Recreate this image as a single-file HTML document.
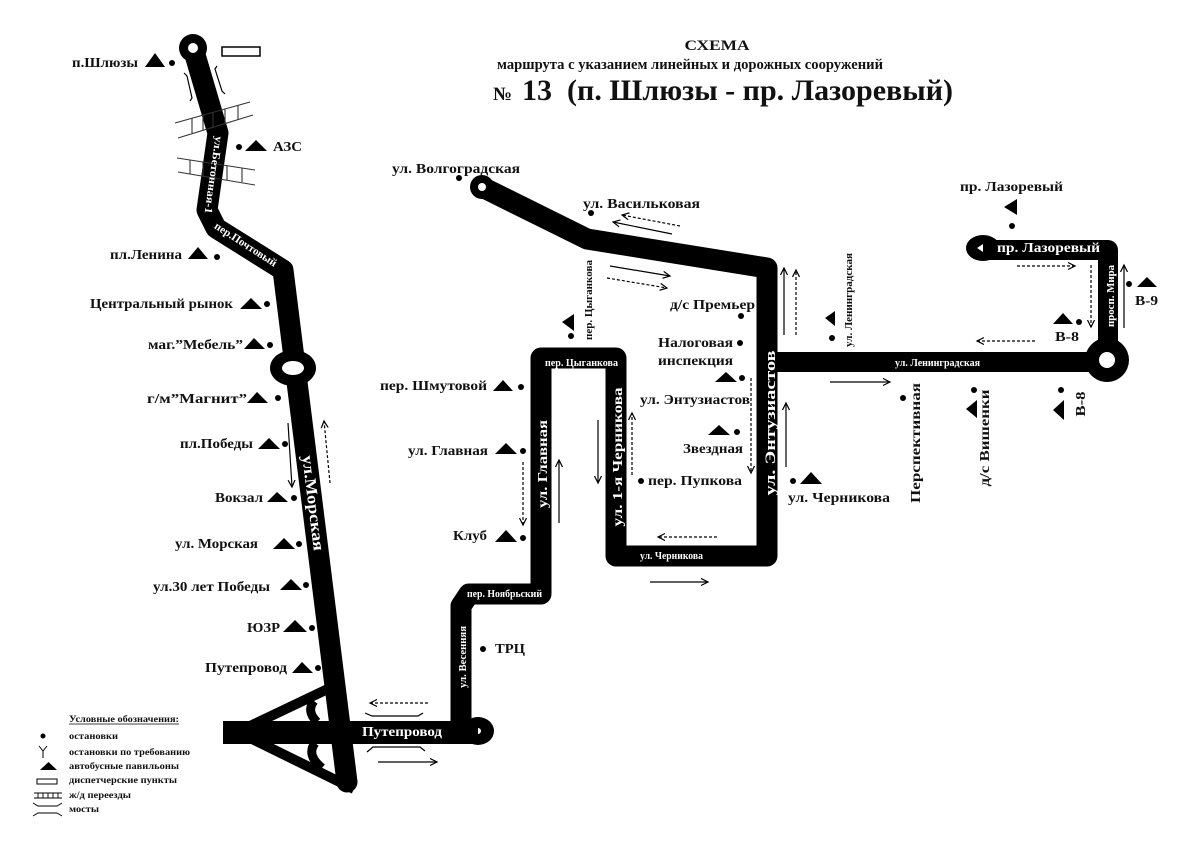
<!DOCTYPE html>
<html><head><meta charset="utf-8"><style>
html,body{margin:0;padding:0;background:#fff;}
svg{display:block;}
text{font-family:"Liberation Serif","DejaVu Serif",serif;font-weight:bold;fill:#111;}
.w{fill:#fff;}
</style></head><body>
<svg width="1200" height="849" viewBox="0 0 1200 849" xmlns="http://www.w3.org/2000/svg">
<defs>
<marker id="ah" markerWidth="9" markerHeight="9" refX="7" refY="4" orient="auto" markerUnits="userSpaceOnUse"><path d="M0,0.5 L7,4 L0,7.5" fill="none" stroke="#000" stroke-width="1.2"/></marker>
</defs>
<rect width="1200" height="849" fill="#fff"/>

<!-- Title -->
<text x="717" y="50" font-size="15" text-anchor="middle" textLength="65" lengthAdjust="spacingAndGlyphs">СХЕМА</text>
<text x="497" y="69" font-size="15" textLength="386" lengthAdjust="spacingAndGlyphs">маршрута с указанием линейных и дорожных сооружений</text>
<text x="493" y="100" font-size="19" textLength="19" lengthAdjust="spacingAndGlyphs">№</text>
<text x="522" y="100" font-size="30" textLength="431" lengthAdjust="spacingAndGlyphs">13&#160; (п. Шлюзы - пр. Лазоревый)</text>

<!-- LEFT ROAD -->
<polyline points="193,48 218,133 207,210 216,228 283,270 347,782" fill="none" stroke="#000" stroke-width="21" stroke-linejoin="round" stroke-linecap="round"/>
<circle cx="193" cy="48" r="14" fill="#000"/>
<circle cx="193" cy="48" r="5" fill="#fff"/>
<ellipse cx="293" cy="368" rx="23" ry="18" fill="#000"/>
<ellipse cx="293" cy="368" rx="11" ry="7" fill="#fff"/>

<!-- interchange -->
<rect x="223" y="721" width="255" height="23" fill="#000"/>
<line x1="248" y1="727" x2="334" y2="686" stroke="#000" stroke-width="10"/>
<line x1="248" y1="737" x2="354" y2="789" stroke="#000" stroke-width="10"/>
<path d="M314,701 Q306,711 317,722" fill="none" stroke="#000" stroke-width="9"/>
<path d="M315,743 Q306,755 322,768" fill="none" stroke="#000" stroke-width="9"/>
<ellipse cx="478" cy="731" rx="16" ry="14" fill="#000"/>
<circle cx="478" cy="731" r="3" fill="#fff"/>

<!-- dispatch rect & bridges & rails top -->
<rect x="222" y="47" width="38" height="9" fill="none" stroke="#000" stroke-width="1.5"/>
<path d="M184,73 l3,3 L192,98 l-2,3" fill="none" stroke="#000" stroke-width="1.2"/>
<path d="M217,66 l-2,3 L222,91 l3,3" fill="none" stroke="#000" stroke-width="1.2"/>
<g stroke="#333" stroke-width="1.1" fill="none">
<line x1="175" y1="123" x2="250" y2="102"/>
<line x1="178" y1="138" x2="253" y2="115"/>
<line x1="192" y1="118" x2="192" y2="133"/>
<line x1="203" y1="115" x2="203" y2="130"/>
<line x1="213" y1="112" x2="213" y2="127"/>
<line x1="225" y1="109" x2="225" y2="124"/>
<line x1="238" y1="105" x2="238" y2="120"/>
<line x1="177" y1="158" x2="255" y2="170"/>
<line x1="178" y1="172" x2="255" y2="185"/>
<line x1="190" y1="160" x2="190" y2="174"/>
<line x1="203" y1="162" x2="203" y2="176"/>
<line x1="215" y1="164" x2="215" y2="178"/>
<line x1="227" y1="166" x2="227" y2="180"/>
<line x1="242" y1="168" x2="242" y2="182"/>
</g>

<!-- left road texts (white) -->
<text class="w" transform="translate(214,175) rotate(98)" x="0" y="4" font-size="11" text-anchor="middle" textLength="78" lengthAdjust="spacingAndGlyphs">ул.Бетонная-1</text>
<text class="w" transform="translate(246,244) rotate(33)" x="0" y="4" font-size="11" text-anchor="middle" textLength="72" lengthAdjust="spacingAndGlyphs">пер.Почтовый</text>
<text class="w" transform="translate(313,503) rotate(83)" x="0" y="5" font-size="16" text-anchor="middle" textLength="96" lengthAdjust="spacingAndGlyphs">ул.Морская</text>
<text class="w" x="362" y="736" font-size="14" textLength="80" lengthAdjust="spacingAndGlyphs">Путепровод</text>

<!-- left labels -->
<text x="72" y="67" font-size="14" textLength="66" lengthAdjust="spacingAndGlyphs">п.Шлюзы</text>
<polygon points="145,67 155,53 165,67" fill="#000"/><circle cx="172" cy="63" r="3" fill="#000"/>
<text x="273" y="151" font-size="14" textLength="29" lengthAdjust="spacingAndGlyphs">АЗС</text>
<circle cx="239" cy="147" r="3" fill="#000"/><polygon points="245,151 256,140 267,151" fill="#000"/>
<text x="110" y="259" font-size="14" textLength="72" lengthAdjust="spacingAndGlyphs">пл.Ленина</text>
<polygon points="188,259 198,247 208,259" fill="#000"/><circle cx="217" cy="257" r="3" fill="#000"/>
<text x="90" y="308" font-size="14" textLength="143" lengthAdjust="spacingAndGlyphs">Центральный рынок</text>
<polygon points="240,309 251,298 262,309" fill="#000"/><circle cx="267" cy="304" r="3" fill="#000"/>
<text x="148" y="349" font-size="14" textLength="95" lengthAdjust="spacingAndGlyphs">маг.”Мебель”</text>
<polygon points="244,349 254,338 265,349" fill="#000"/><circle cx="270" cy="345" r="3" fill="#000"/>
<text x="147" y="403" font-size="14" textLength="100" lengthAdjust="spacingAndGlyphs">г/м”Магнит”</text>
<polygon points="247,403 257,392 268,403" fill="#000"/><circle cx="278" cy="398" r="3" fill="#000"/>
<text x="180" y="448" font-size="14" textLength="73" lengthAdjust="spacingAndGlyphs">пл.Победы</text>
<polygon points="258,449 269,438 280,449" fill="#000"/><circle cx="285" cy="444" r="3" fill="#000"/>
<text x="215" y="502" font-size="14" textLength="48" lengthAdjust="spacingAndGlyphs">Вокзал</text>
<polygon points="267,502 277,492 288,502" fill="#000"/><circle cx="294" cy="498" r="3" fill="#000"/>
<text x="175" y="548" font-size="14" textLength="83" lengthAdjust="spacingAndGlyphs">ул. Морская</text>
<polygon points="273,549 284,538 295,549" fill="#000"/><circle cx="299" cy="544" r="3" fill="#000"/>
<text x="153" y="591" font-size="14" textLength="117" lengthAdjust="spacingAndGlyphs">ул.30 лет Победы</text>
<polygon points="280,590 291,579 302,590" fill="#000"/><circle cx="306" cy="585" r="3" fill="#000"/>
<text x="247" y="632" font-size="14" textLength="33" lengthAdjust="spacingAndGlyphs">ЮЗР</text>
<polygon points="283,632 295,620 307,632" fill="#000"/><circle cx="312" cy="628" r="3" fill="#000"/>
<text x="205" y="672" font-size="14" textLength="82" lengthAdjust="spacingAndGlyphs">Путепровод</text>
<polygon points="292,673 302,662 313,673" fill="#000"/><circle cx="318" cy="668" r="3" fill="#000"/>

<!-- left arrows -->
<line x1="288" y1="423" x2="292" y2="487" stroke="#000" stroke-width="1.2" marker-end="url(#ah)"/>
<line x1="330" y1="483" x2="324" y2="421" stroke="#000" stroke-width="1.2" stroke-dasharray="3,2" marker-end="url(#ah)"/>
<line x1="428" y1="703" x2="370" y2="703" stroke="#000" stroke-width="1.2" stroke-dasharray="3,2" marker-end="url(#ah)"/>
<line x1="378" y1="762" x2="437" y2="762" stroke="#000" stroke-width="1.2" marker-end="url(#ah)"/>
<path d="M365,713 L372,716 L418,716 L423,713" fill="none" stroke="#000" stroke-width="1.2"/>
<path d="M367,752 L373,747 L420,747 L425,751" fill="none" stroke="#000" stroke-width="1.2"/>

<!-- legend -->
<text x="69" y="722" font-size="9" textLength="110" lengthAdjust="spacingAndGlyphs">Условные обозначения:</text>
<line x1="69" y1="724" x2="179" y2="724" stroke="#000" stroke-width="0.8"/>
<circle cx="43" cy="736" r="2.5" fill="#000"/>
<text x="69" y="739" font-size="9" textLength="49" lengthAdjust="spacingAndGlyphs">остановки</text>
<path d="M39,746 L43,751 L47,746 M43,751 L43,758" fill="none" stroke="#000" stroke-width="1"/>
<text x="69" y="755" font-size="9" textLength="121" lengthAdjust="spacingAndGlyphs">остановки по требованию</text>
<polygon points="40,770 48.5,762 57,770" fill="#000"/>
<text x="69" y="769" font-size="9" textLength="110" lengthAdjust="spacingAndGlyphs">автобусные павильоны</text>
<rect x="37" y="779" width="20" height="5" fill="none" stroke="#000" stroke-width="1"/>
<text x="69" y="783" font-size="9" textLength="108" lengthAdjust="spacingAndGlyphs">диспетчерские пункты</text>
<path d="M34,793 L62,793 M34,798 L62,798 M38,793 L38,798 M43,793 L43,798 M48,793 L48,798 M53,793 L53,798 M58,793 L58,798" fill="none" stroke="#000" stroke-width="0.9"/>
<text x="69" y="798" font-size="9" textLength="62" lengthAdjust="spacingAndGlyphs">ж/д переезды</text>
<path d="M33,803 L38,806 L57,806 L62,803 M33,816 L38,813 L57,813 L62,816" fill="none" stroke="#000" stroke-width="0.9"/>
<text x="69" y="812" font-size="9" textLength="30" lengthAdjust="spacingAndGlyphs">мосты</text>

<!-- MIDDLE ROUTE -->
<polyline points="478,732 461,732 461,606 469,594 541,594 541,358 616,358 616,556 767,556 767,268 587,239 482,187" fill="none" stroke="#000" stroke-width="21" stroke-linejoin="round"/>
<circle cx="482" cy="187" r="12" fill="#000"/>
<circle cx="482" cy="187" r="4" fill="#fff"/>

<!-- right route -->
<line x1="767" y1="362" x2="1107" y2="362" stroke="#000" stroke-width="20"/>
<polyline points="1108,360 1108,250 985,250" fill="none" stroke="#000" stroke-width="20" stroke-linejoin="round"/>
<circle cx="1107" cy="360" r="22" fill="#000"/>
<circle cx="1107" cy="360" r="8" fill="#fff"/>
<ellipse cx="983" cy="248" rx="17" ry="13" fill="#000"/>
<polygon points="977,248 983,244 983,252" fill="#fff"/>

<!-- white road texts middle -->
<text class="w" x="467" y="597" font-size="11" textLength="75" lengthAdjust="spacingAndGlyphs">пер. Ноябрьский</text>
<text class="w" transform="translate(462,657) rotate(-90)" x="0" y="4" font-size="11" text-anchor="middle" textLength="62" lengthAdjust="spacingAndGlyphs">ул. Весенняя</text>
<text class="w" transform="translate(542,464) rotate(-90)" x="0" y="5" font-size="14" text-anchor="middle" textLength="88" lengthAdjust="spacingAndGlyphs">ул. Главная</text>
<text class="w" x="545" y="366" font-size="11" textLength="73" lengthAdjust="spacingAndGlyphs">пер. Цыганкова</text>
<text class="w" transform="translate(617,457) rotate(-90)" x="0" y="5" font-size="14" text-anchor="middle" textLength="139" lengthAdjust="spacingAndGlyphs">ул. 1-я Черникова</text>
<text class="w" x="640" y="559" font-size="11" textLength="63" lengthAdjust="spacingAndGlyphs">ул. Черникова</text>
<text class="w" transform="translate(770,423) rotate(-90)" x="0" y="5" font-size="15" text-anchor="middle" textLength="145" lengthAdjust="spacingAndGlyphs">ул. Энтузиастов</text>
<text class="w" x="895" y="366" font-size="11" textLength="85" lengthAdjust="spacingAndGlyphs">ул. Ленинградская</text>
<text class="w" x="997" y="252" font-size="14" textLength="103" lengthAdjust="spacingAndGlyphs">пр. Лазоревый</text>
<text class="w" transform="translate(1110,296) rotate(-90)" x="0" y="4" font-size="11" text-anchor="middle" textLength="62" lengthAdjust="spacingAndGlyphs">просп. Мира</text>

<!-- middle labels -->
<text x="392" y="173" font-size="14" textLength="128" lengthAdjust="spacingAndGlyphs">ул. Волгоградская</text>
<circle cx="459" cy="178" r="3" fill="#000"/>
<text x="583" y="208" font-size="14" textLength="117" lengthAdjust="spacingAndGlyphs">ул. Васильковая</text>
<circle cx="591" cy="213" r="3" fill="#000"/>
<text transform="translate(588,300) rotate(-90)" x="0" y="4" font-size="11" text-anchor="middle" textLength="80" lengthAdjust="spacingAndGlyphs">пер. Цыганкова</text>
<polygon points="562,322 574,314 574,331" fill="#000"/><circle cx="571" cy="336" r="3" fill="#000"/>
<text x="670" y="309" font-size="14" textLength="85" lengthAdjust="spacingAndGlyphs">д/с Премьер</text>
<circle cx="741" cy="316" r="3" fill="#000"/>
<text x="658" y="347" font-size="14" textLength="75" lengthAdjust="spacingAndGlyphs">Налоговая</text>
<circle cx="740" cy="343" r="3" fill="#000"/>
<text x="658" y="365" font-size="14" textLength="75" lengthAdjust="spacingAndGlyphs">инспекция</text>
<polygon points="715,382 726,372 737,382" fill="#000"/><circle cx="742" cy="378" r="3" fill="#000"/>
<text x="380" y="390" font-size="14" textLength="107" lengthAdjust="spacingAndGlyphs">пер. Шмутовой</text>
<polygon points="493,391 503,380 513,391" fill="#000"/><circle cx="521" cy="387" r="3" fill="#000"/>
<text x="408" y="455" font-size="14" textLength="80" lengthAdjust="spacingAndGlyphs">ул. Главная</text>
<polygon points="495,454 506,443 517,454" fill="#000"/><circle cx="523" cy="451" r="3" fill="#000"/>
<text x="453" y="540" font-size="14" textLength="34" lengthAdjust="spacingAndGlyphs">Клуб</text>
<polygon points="495,542 506,530 517,542" fill="#000"/><circle cx="523" cy="538" r="3" fill="#000"/>
<text x="640" y="404" font-size="14" textLength="110" lengthAdjust="spacingAndGlyphs">ул. Энтузиастов</text>
<polygon points="708,435 719,425 730,435" fill="#000"/><circle cx="737" cy="432" r="3" fill="#000"/>
<text x="683" y="453" font-size="14" textLength="60" lengthAdjust="spacingAndGlyphs">Звездная</text>
<circle cx="641" cy="481" r="3" fill="#000"/>
<text x="648" y="485" font-size="14" textLength="94" lengthAdjust="spacingAndGlyphs">пер. Пупкова</text>
<circle cx="483" cy="649" r="3" fill="#000"/>
<text x="495" y="653" font-size="14" textLength="30" lengthAdjust="spacingAndGlyphs">ТРЦ</text>

<!-- middle arrows -->
<g stroke="#000" stroke-width="1.2" fill="none">
<line x1="680" y1="226" x2="622" y2="215" stroke-dasharray="3,2" marker-end="url(#ah)"/>
<line x1="672" y1="234" x2="613" y2="222" marker-end="url(#ah)"/>
<line x1="610" y1="266" x2="670" y2="276" marker-end="url(#ah)"/>
<line x1="607" y1="278" x2="667" y2="288" stroke-dasharray="3,2" marker-end="url(#ah)"/>
<line x1="523" y1="462" x2="523" y2="525" stroke-dasharray="3,2" marker-end="url(#ah)"/>
<line x1="559" y1="523" x2="559" y2="460" marker-end="url(#ah)"/>
<line x1="598" y1="420" x2="598" y2="483" marker-end="url(#ah)"/>
<line x1="632" y1="475" x2="632" y2="413" stroke-dasharray="3,2" marker-end="url(#ah)"/>
<line x1="751" y1="378" x2="751" y2="473" stroke-dasharray="3,2" marker-end="url(#ah)"/>
<line x1="717" y1="537" x2="658" y2="537" stroke-dasharray="3,2" marker-end="url(#ah)"/>
<line x1="650" y1="582" x2="708" y2="582" marker-end="url(#ah)"/>
<line x1="786" y1="467" x2="786" y2="403" marker-end="url(#ah)"/>
<line x1="784" y1="335" x2="784" y2="268" marker-end="url(#ah)"/>
<line x1="796" y1="335" x2="796" y2="270" stroke-dasharray="3,2" marker-end="url(#ah)"/>
<line x1="830" y1="382" x2="890" y2="382" marker-end="url(#ah)"/>
<line x1="1017" y1="266" x2="1075" y2="266" stroke-dasharray="3,2" marker-end="url(#ah)"/>
<line x1="1091" y1="265" x2="1091" y2="327" stroke-dasharray="3,2" marker-end="url(#ah)"/>
<line x1="1124" y1="328" x2="1124" y2="265" marker-end="url(#ah)"/>
<line x1="1035" y1="341" x2="977" y2="341" stroke-dasharray="3,2" marker-end="url(#ah)"/>
</g>

<!-- right labels -->
<polygon points="825,318 835,311 835,326" fill="#000"/><circle cx="832" cy="338" r="3" fill="#000"/>
<text transform="translate(848,300) rotate(-90)" x="0" y="4" font-size="11" text-anchor="middle" textLength="94" lengthAdjust="spacingAndGlyphs">ул. Ленинградская</text>
<circle cx="903" cy="398" r="3" fill="#000"/>
<text transform="translate(915,443) rotate(-90)" x="0" y="5" font-size="14" text-anchor="middle" textLength="120" lengthAdjust="spacingAndGlyphs">Перспективная</text>
<circle cx="974" cy="390" r="3" fill="#000"/>
<polygon points="966,409 977,400 977,418" fill="#000"/>
<text transform="translate(984,438) rotate(-90)" x="0" y="5" font-size="14" text-anchor="middle" textLength="97" lengthAdjust="spacingAndGlyphs">д/с Вишенки</text>
<circle cx="1061" cy="390" r="3" fill="#000"/>
<polygon points="1053,410 1064,400 1064,420" fill="#000"/>
<text transform="translate(1080,404) rotate(-90)" x="0" y="5" font-size="14" text-anchor="middle" textLength="25" lengthAdjust="spacingAndGlyphs">В-8</text>
<circle cx="793" cy="481" r="3" fill="#000"/>
<polygon points="800,484 811,472 822,484" fill="#000"/>
<text x="788" y="502" font-size="14" textLength="102" lengthAdjust="spacingAndGlyphs">ул. Черникова</text>
<text x="960" y="191" font-size="14" textLength="103" lengthAdjust="spacingAndGlyphs">пр. Лазоревый</text>
<polygon points="1004,207 1017,199 1017,215" fill="#000"/><circle cx="1012" cy="226" r="3" fill="#000"/>
<circle cx="1129" cy="284" r="3" fill="#000"/>
<polygon points="1137,287 1147,277 1157,287" fill="#000"/>
<text x="1135" y="305" font-size="14" textLength="23" lengthAdjust="spacingAndGlyphs">В-9</text>
<polygon points="1053,324 1063,313 1073,324" fill="#000"/><circle cx="1079" cy="322" r="3" fill="#000"/>
<text x="1055" y="341" font-size="14" textLength="24" lengthAdjust="spacingAndGlyphs">В-8</text>
</svg>
</body></html>
